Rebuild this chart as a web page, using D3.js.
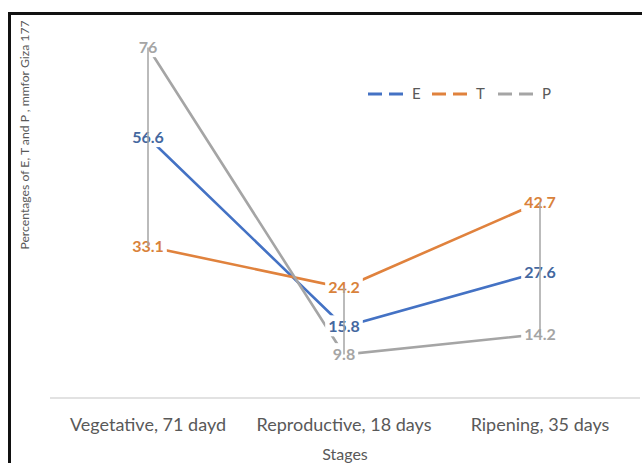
<!DOCTYPE html>
<html>
<head>
<meta charset="utf-8">
<script src="https://cdn.jsdelivr.net/npm/d3@7"></script>
<style>
  html, body { margin: 0; padding: 0; background: #fff; }
  svg { display: block; }
</style>
</head>
<body>
<svg id="chart" width="642" height="463"></svg>
<script>
const categories = ["Vegetative, 71 dayd", "Reproductive, 18 days", "Ripening, 35 days"];
const seriesNames = ["E", "T", "P"];
const valuesE = [56.6, 15.8, 27.6];
const valuesT = [33.1, 24.2, 42.7];
const valuesP = [76, 9.8, 14.2];
const yDomain = [0, 80];

const series = [
  { name: "E", values: valuesE, color: "#4472C4", labelColor: "#44689f" },
  { name: "T", values: valuesT, color: "#E0823D", labelColor: "#d9823b" },
  { name: "P", values: valuesP, color: "#A5A5A5", labelColor: "#a5a5a5" }
];

const svg = d3.select("#chart");
const font = "Lato, 'Open Sans', sans-serif";

svg.append("rect").attr("width", 642).attr("height", 463).attr("fill", "#fff");

// outer frame (top and left visible)
svg.append("rect")
  .attr("x", 9.5).attr("y", 13.5).attr("width", 800).attr("height", 600)
  .attr("fill", "none").attr("stroke", "#111").attr("stroke-width", 3);

const x = d3.scaleBand().domain(categories).range([50, 638]).padding(0);
const y = d3.scaleLinear().domain(yDomain).range([400, 29]);
const cx = c => x(c) + x.bandwidth() / 2;

// category axis (baseline + labels)
const xAxis = d3.axisBottom(x).tickSize(0).tickPadding(20);
const gx = svg.append("g").attr("transform", "translate(0,398)").call(xAxis);
gx.select(".domain").attr("stroke", "#d9d9d9").attr("stroke-width", 1.5)
  .attr("d", "M50,0H640");
gx.selectAll(".tick text")
  .attr("font-family", font).attr("font-size", 18).attr("fill", "#595959");

// axis titles
svg.append("text")
  .attr("x", 345).attr("y", 460)
  .attr("text-anchor", "middle")
  .attr("font-family", font).attr("font-size", 16).attr("fill", "#595959")
  .text("Stages");

svg.append("text")
  .attr("transform", "translate(29,135) rotate(-90)")
  .attr("text-anchor", "middle")
  .attr("font-family", font).attr("font-size", 12.2).attr("fill", "#595959")
  .text("Percentages of E, T and P , mmfor Giza 177");

// series lines
const line = d3.line().x(d => cx(d.c)).y(d => y(d.v));
series.forEach(s => {
  const pts = categories.map((c, i) => ({ c, v: s.values[i] }));
  svg.append("path").datum(pts)
    .attr("d", line)
    .attr("fill", "none")
    .attr("stroke", s.color)
    .attr("stroke-width", 2.6);
});

// data labels with white background
const labelG = svg.append("g");
series.forEach(s => {
  categories.forEach((c, i) => {
    const g = labelG.append("g").attr("transform", `translate(${cx(c)},${y(s.values[i])})`);
    const t = g.append("text")
      .attr("text-anchor", "middle")
      .attr("dy", "0.35em")
      .attr("font-family", font).attr("font-size", 16).attr("font-weight", "bold")
      .attr("fill", s.labelColor)
      .text(s.values[i]);
    const bb = t.node().getBBox();
    g.insert("rect", "text")
      .attr("x", bb.x - 3).attr("y", bb.y - 1)
      .attr("width", bb.width + 6).attr("height", bb.height + 2)
      .attr("fill", "#fff");
  });
});

// high-low lines
categories.forEach((c, i) => {
  const vals = series.map(s => s.values[i]);
  svg.append("line")
    .attr("x1", cx(c)).attr("x2", cx(c))
    .attr("y1", y(d3.max(vals))).attr("y2", y(d3.min(vals)))
    .attr("stroke", "#a5a5a5").attr("stroke-width", 1.5);
});

// legend
const legendX = [368, 432, 498];
const legend = svg.append("g");
series.forEach((s, i) => {
  const g = legend.append("g").attr("transform", `translate(${legendX[i]},94)`);
  g.append("line").attr("x1", 0).attr("x2", 42).attr("y1", 0).attr("y2", 0)
    .attr("stroke", s.color).attr("stroke-width", 3)
    .attr("stroke-dasharray", "14,7");
  g.append("text").attr("x", 44).attr("dy", "0.35em")
    .attr("font-family", font).attr("font-size", 15).attr("fill", "#595959")
    .text(s.name);
});
</script>
</body>
</html>
